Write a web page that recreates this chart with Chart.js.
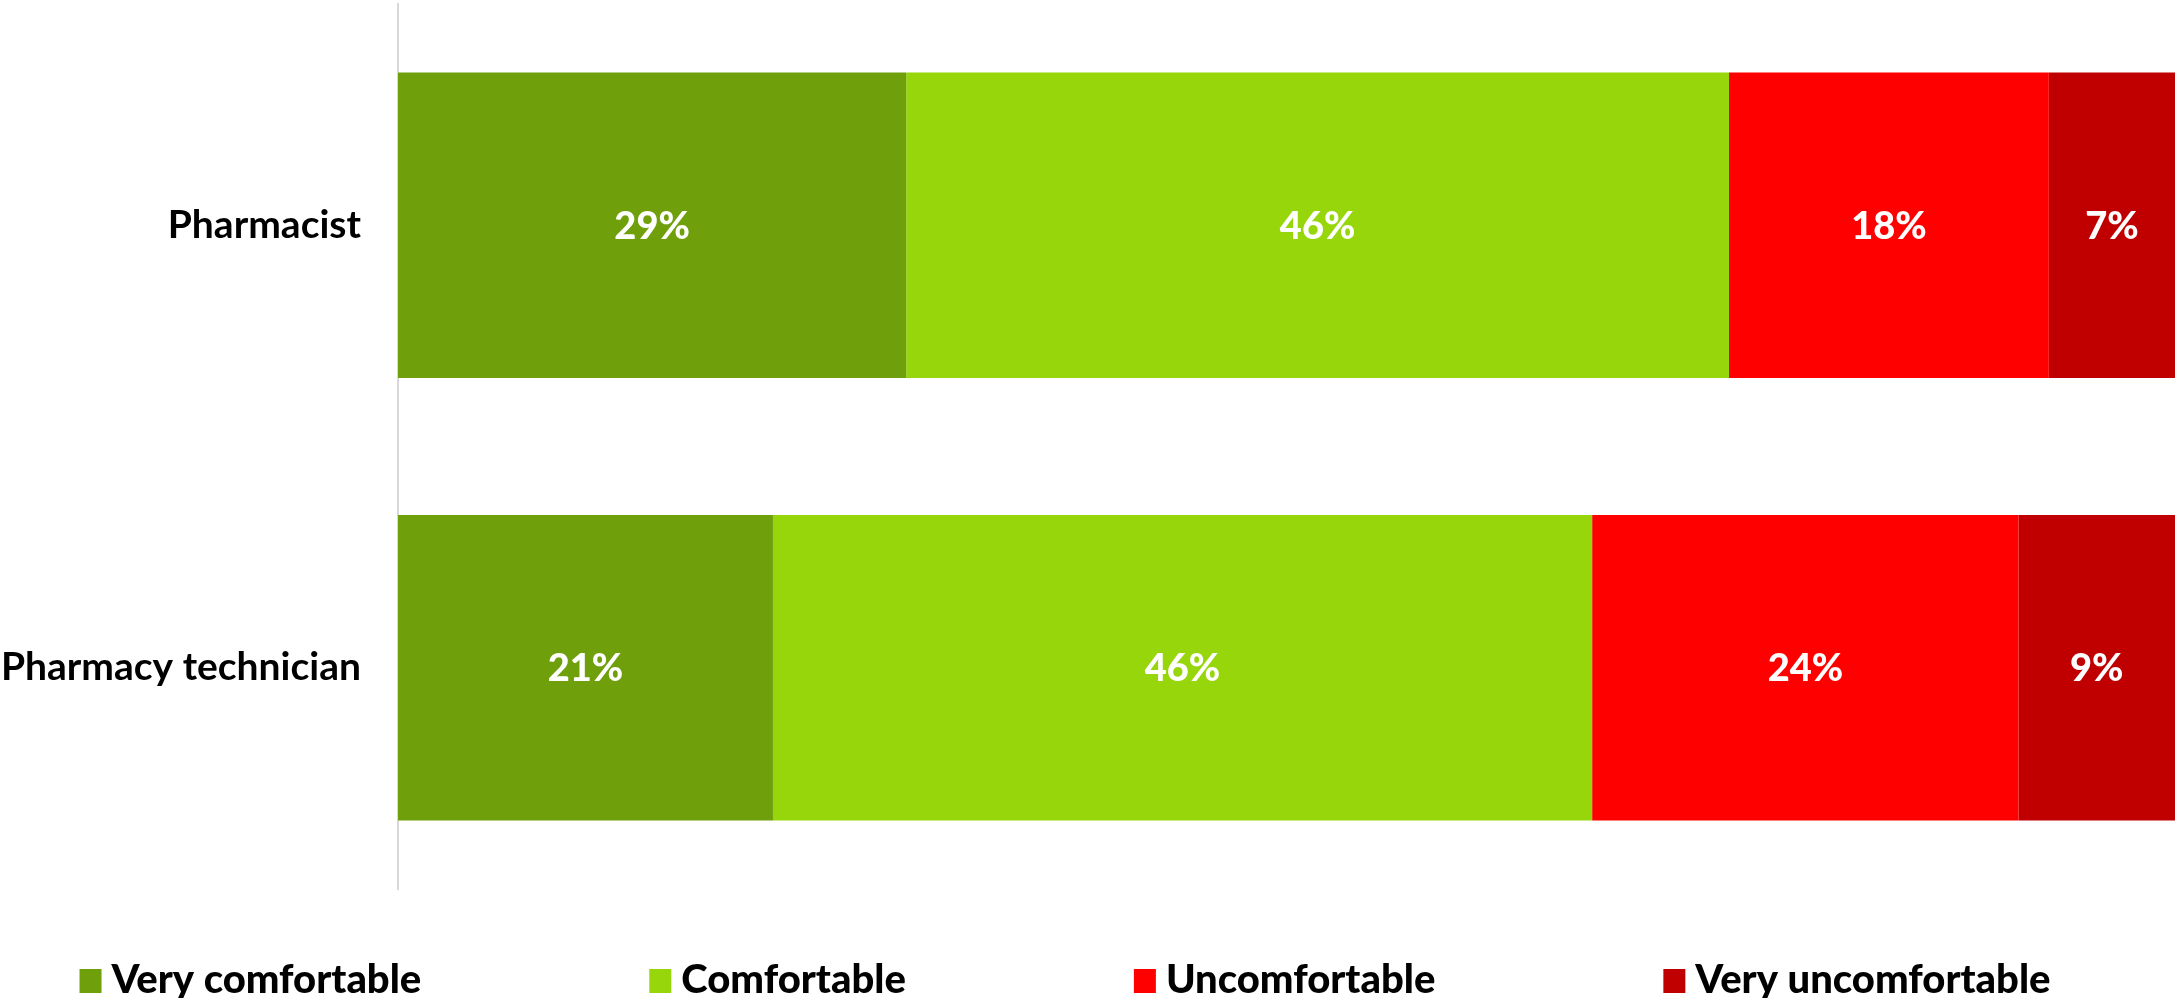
<!DOCTYPE html>
<html>
<head>
<meta charset="utf-8">
<script src="https://cdn.jsdelivr.net/npm/chart.js@4.4.1/dist/chart.umd.min.js"></script>
<style>
html,body{margin:0;padding:0;background:#fff;overflow:hidden;}
#wrap{position:relative;width:2177px;height:998px;}
</style>
</head>
<body>
<div id="wrap"><canvas id="c" width="2177" height="998"></canvas></div>
<script>
const categories = ["Pharmacist", "Pharmacy technician"];
const seriesNames = ["Very comfortable", "Comfortable", "Uncomfortable", "Very uncomfortable"];
const veryComfortable = [28.6, 21.1];
const comfortable = [46.3, 46.1];
const uncomfortable = [18.0, 24.0];
const veryUncomfortable = [7.1, 8.8];
const seriesColors = ["#6f9f0a", "#96d60a", "#ff0000", "#c00000"];

const seriesValues = [veryComfortable, comfortable, uncomfortable, veryUncomfortable];
const FONT = "Lato, 'Open Sans', sans-serif";

const dataLabels = {
  id: "dataLabels",
  afterDatasetsDraw(chart) {
    const ctx = chart.ctx;
    ctx.save();
    ctx.fillStyle = "#ffffff";
    ctx.font = "900 38px " + FONT;
    ctx.textAlign = "center";
    ctx.textBaseline = "middle";
    chart.data.datasets.forEach((ds, i) => {
      const meta = chart.getDatasetMeta(i);
      meta.data.forEach((bar, j) => {
        const v = ds.data[j];
        const x = (bar.x + bar.base) / 2;
        ctx.fillText(Math.round(v) + "%", x, bar.y + 1);
      });
    });
    ctx.restore();
  }
};

const customLegend = {
  id: "customLegend",
  afterDraw(chart) {
    const ctx = chart.ctx;
    ctx.save();
    ctx.font = "900 40px " + FONT;
    ctx.textBaseline = "alphabetic";
    const box = 22, boxH = 24, gapText = 10, gapItem = 228;
    const items = chart.data.datasets.map(ds => ({ text: ds.label, color: ds.backgroundColor, w: ctx.measureText(ds.label).width }));
    const total = items.reduce((s, it) => s + box + gapText + it.w, 0) + gapItem * (items.length - 1);
    let x = 1065 - total / 2;
    const baseline = 993;
    items.forEach(it => {
      ctx.fillStyle = it.color;
      ctx.fillRect(x, baseline - boxH, box, boxH);
      ctx.fillStyle = "#000000";
      ctx.fillText(it.text, x + box + gapText, baseline);
      x += box + gapText + it.w + gapItem;
    });
    ctx.restore();
  }
};

new Chart(document.getElementById("c"), {
  type: "bar",
  data: {
    labels: categories,
    datasets: seriesNames.map((name, i) => ({
      label: name,
      data: seriesValues[i],
      backgroundColor: seriesColors[i],
      borderWidth: 0,
      categoryPercentage: 1.0,
      barPercentage: 0.69
    }))
  },
  options: {
    indexAxis: "y",
    responsive: false,
    animation: false,
    layout: { padding: { top: 4, right: 2, bottom: 109, left: 0 } },
    plugins: {
      legend: { display: false },
      tooltip: { enabled: false }
    },
    scales: {
      x: {
        stacked: true,
        min: 0,
        max: 100,
        display: false
      },
      y: {
        stacked: true,
        afterFit(scale) { scale.paddingTop = 0; scale.paddingBottom = 0; scale.width = 398; },
        grid: { display: false, drawTicks: false },
        border: { display: true, color: "#d9d9d9", width: 2 },
        ticks: {
          color: "#000000",
          padding: 37,
          font: { family: FONT, size: 39, weight: "bold" }
        }
      }
    }
  },
  plugins: [dataLabels, customLegend]
});
</script>
</body>
</html>
